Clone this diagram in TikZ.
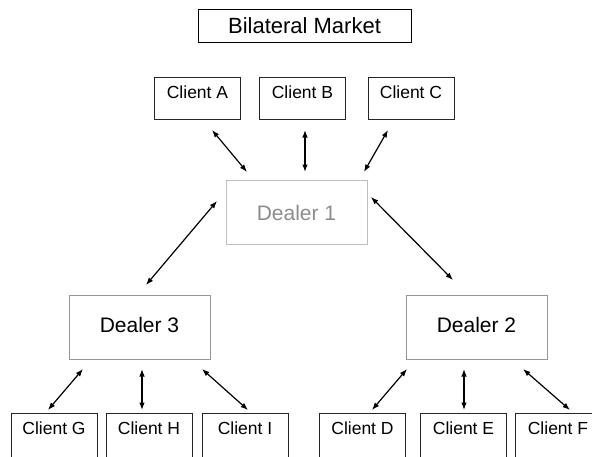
\documentclass[tikz,border=0pt]{standalone}
\usepackage{fontspec}
\setmainfont{Liberation Sans}
\usetikzlibrary{arrows.meta,positioning}
\definecolor{dealerline}{RGB}{150,150,150}
\definecolor{hubline}{RGB}{190,190,190}
\definecolor{hubtext}{RGB}{140,140,140}

\begin{document}
\begin{tikzpicture}[
    x=1pt, y=-1pt,
    title/.style={rectangle, draw=black, line width=0.9pt, minimum width=213pt, minimum height=33pt, inner sep=0pt, font=\fontsize{22}{26}\selectfont},
    client/.style={rectangle, draw=black!85, line width=0.9pt, minimum width=86pt, inner xsep=0pt, inner ysep=8.5pt, text height=13pt, text depth=12pt, font=\fontsize{17.5}{21}\selectfont},
    lowclient/.style={client, text depth=20pt},
    dealer/.style={rectangle, draw=dealerline, line width=0.8pt, minimum width=141pt, minimum height=64pt, inner sep=0pt, font=\fontsize{21}{25}\selectfont},
    hub/.style={dealer, draw=hubline, text=hubtext},
    link/.style={{Latex[length=7.5pt,width=5.5pt]}-{Latex[length=7.5pt,width=5.5pt]}, line width=1.2pt, black}
]
\useasboundingbox (0,0) rectangle (592,456);

% title
\node[title] (market) at (304.5, 25.5) {Bilateral Market};

% top clients and the hub dealer
\node[client] (ca) at (197.5, 98) {Client A};
\node[client] (cb) at (302.5, 98) {Client B};
\node[client] (cc) at (411, 98) {Client C};
\node[hub] (d1) at (296.5, 212.5) {Dealer 1};

% lower dealers
\node[dealer] (d3) at (139.5, 327) {\raisebox{4pt}{Dealer 3}};
\node[dealer] (d2) at (476.5, 327) {\raisebox{4pt}{Dealer 2}};

% bottom clients
\node[lowclient] (cg) at (54, 438) {Client G};
\node[lowclient] (ch) at (149, 438) {Client H};
\node[lowclient] (ci) at (245, 438) {Client I};
\node[lowclient] (cd) at (362.5, 438) {Client D};
\node[lowclient] (ce) at (463.5, 438) {Client E};
\node[lowclient] (cf) at (558, 438) {Client F};

% arrow ends
\coordinate (ca-out) at (212, 130);  \coordinate (d1-a) at (247, 172);
\coordinate (cb-out) at (305, 130);  \coordinate (d1-b) at (305, 172);
\coordinate (cc-out) at (388, 130);  \coordinate (d1-c) at (364, 172);
\coordinate (d1-l) at (217, 201);    \coordinate (d3-in) at (146, 285);
\coordinate (d1-r) at (371, 197);    \coordinate (d2-in) at (453, 280);
\coordinate (d3-g) at (83, 369);     \coordinate (cg-in) at (48, 410);
\coordinate (d3-h) at (142, 369);    \coordinate (ch-in) at (142, 410);
\coordinate (d3-i) at (202, 369);    \coordinate (ci-in) at (248, 410);
\coordinate (d2-d) at (407, 369);    \coordinate (cd-in) at (372, 410);
\coordinate (d2-e) at (464, 369);    \coordinate (ce-in) at (464, 410);
\coordinate (d2-f) at (523, 369);    \coordinate (cf-in) at (570, 410);

\draw[link] (ca-out) -- (d1-a);
\draw[link] (cb-out) -- (d1-b);
\draw[link] (cc-out) -- (d1-c);
\draw[link] (d1-l) -- (d3-in);
\draw[link] (d1-r) -- (d2-in);
\draw[link] (d3-g) -- (cg-in);
\draw[link] (d3-h) -- (ch-in);
\draw[link] (d3-i) -- (ci-in);
\draw[link] (d2-d) -- (cd-in);
\draw[link] (d2-e) -- (ce-in);
\draw[link] (d2-f) -- (cf-in);
\end{tikzpicture}
\end{document}
